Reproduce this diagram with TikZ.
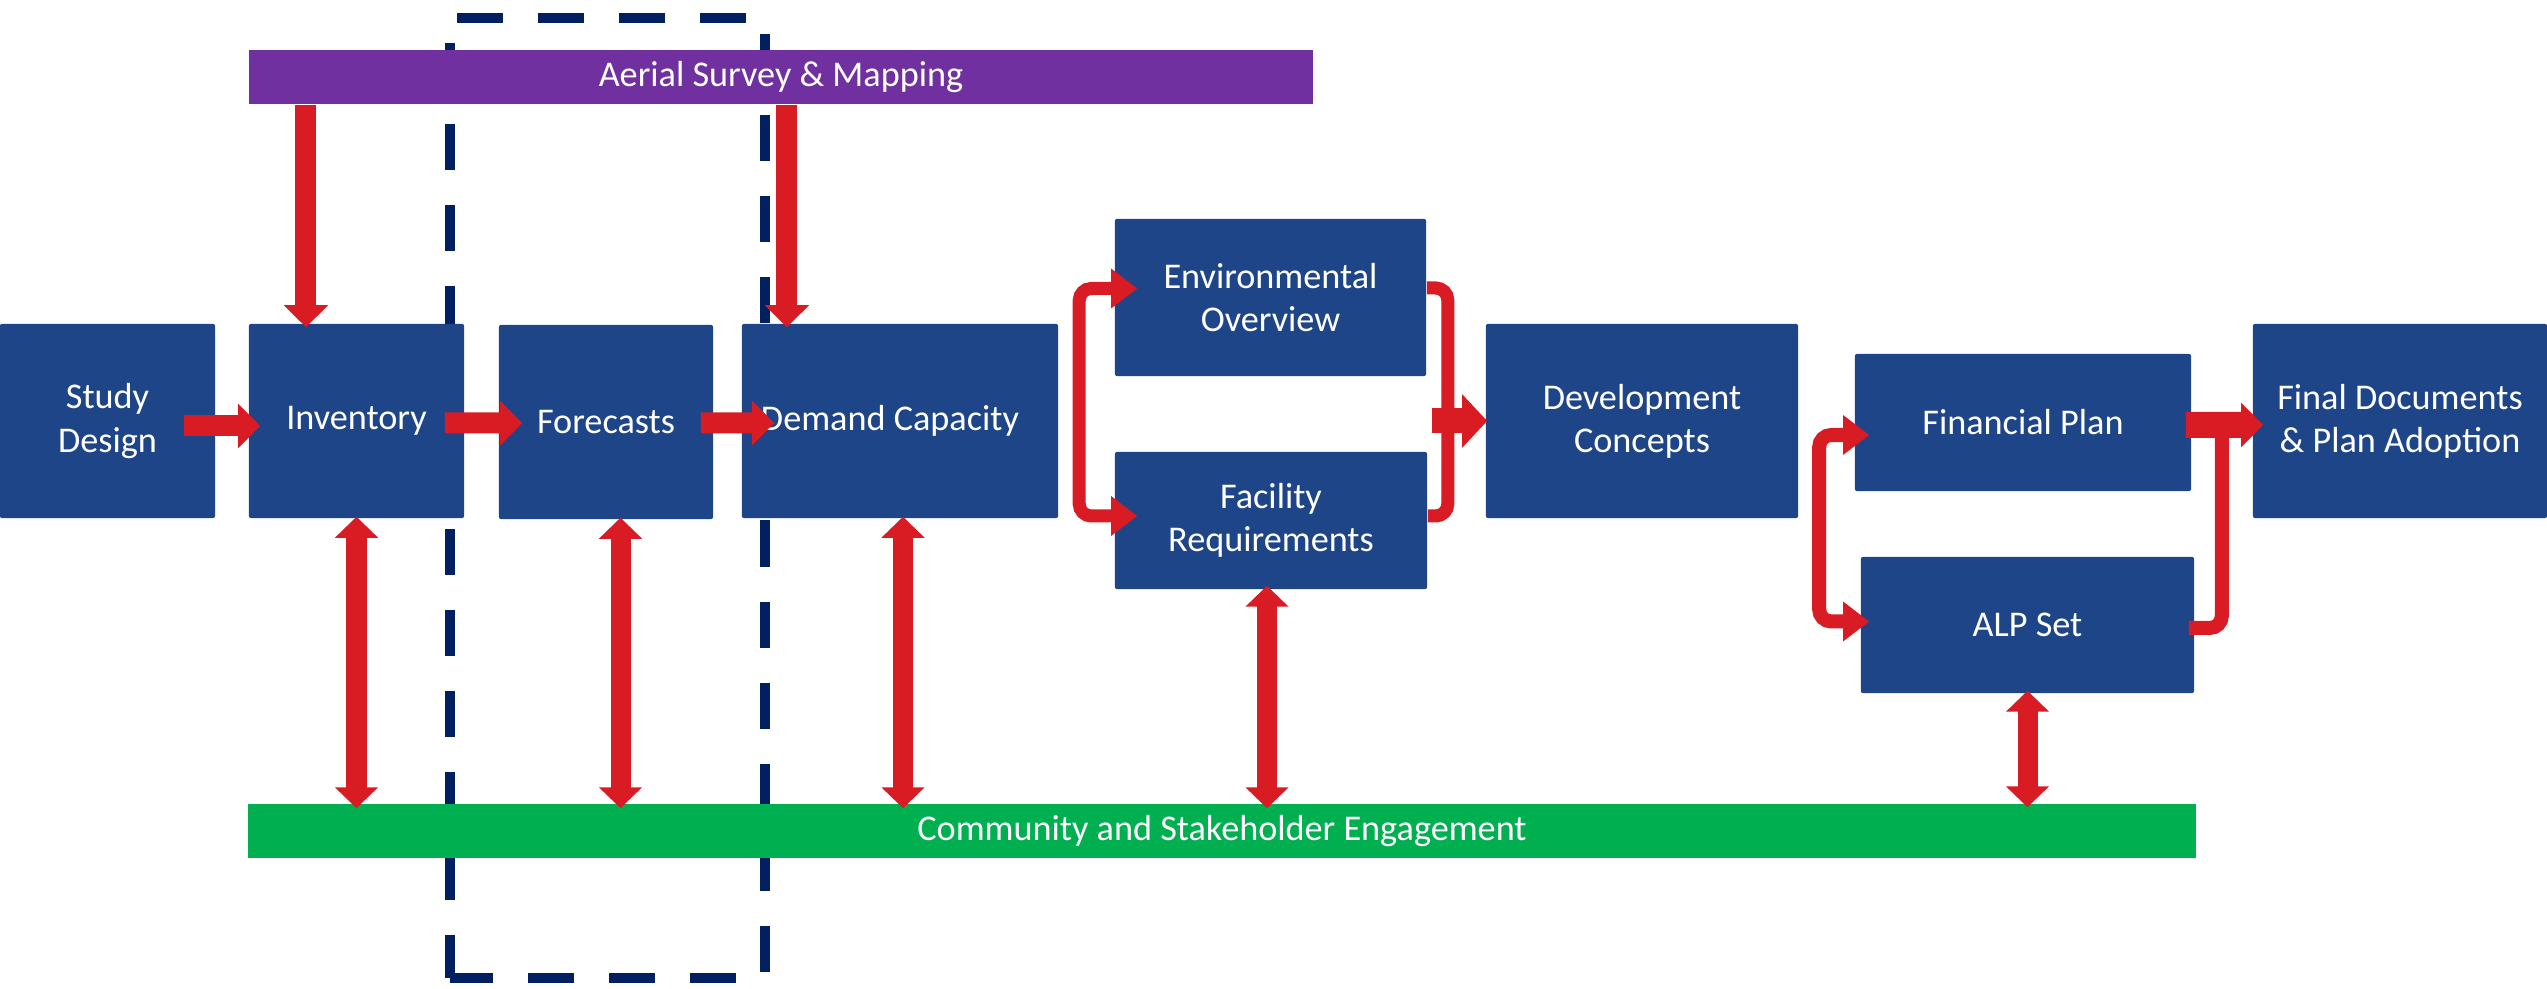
\documentclass[tikz,border=0pt]{standalone}
\usepackage{fontspec}
\setmainfont{Carlito}
\usetikzlibrary{arrows.meta}
\definecolor{stageblue}{HTML}{1F4589}
\definecolor{surveypurple}{HTML}{7030A0}
\definecolor{engagegreen}{HTML}{00B050}
\definecolor{flowred}{HTML}{D91C24}
\definecolor{fencenavy}{HTML}{002060}
\tikzset{
  stage/.style={fill=stageblue, text=white, align=center, inner sep=0pt,
    rounded corners=0.02cm, minimum height=1.94cm},
  band/.style={text=white, inner sep=0pt, minimum height=0.54cm},
  flow/.style={draw=flowred, line width=0.21cm, -{Triangle[width=0.43cm,length=0.22cm]}},
  twoway/.style={draw=flowred, line width=0.2cm,
    {Triangle[width=0.42cm,length=0.21cm]}-{Triangle[width=0.42cm,length=0.21cm]}},
  elbow/.style={draw=flowred, line width=0.13cm, rounded corners=0.12cm},
  elbowtips/.style={elbow, {Triangle[width=0.38cm,length=0.26cm]}-{Triangle[width=0.38cm,length=0.26cm]}},
  fence/.style={draw=fencenavy, line width=0.105cm, dash pattern=on 0.46cm off 0.35cm}
}
\begin{document}
\begin{tikzpicture}[x=0.01cm, y=-0.01cm, font=\fontsize{10.3}{12.3}\selectfont]
\useasboundingbox (0,0) rectangle (2547,989);

% dashed frame round the forecast step, behind all
\draw[fence, dash phase=0.74cm] (450,18) -- (765,18) -- (765,978) -- (450,978);
\draw[fence, dash phase=0.56cm] (450,18) -- (450,978);

% process steps
\node[stage, minimum width=2.15cm] (study) at (107.5,421) {Study\\Design};
\node[stage, minimum width=2.15cm] (inv) at (356.5,421) {Inventory};
\node[stage, minimum width=2.14cm] (fore) at (606,422) {Forecasts};
\node[stage, minimum width=3.16cm] (dem) at (900,421) {\hspace*{-0.2cm}Demand Capacity};
\node[stage, minimum width=3.11cm, minimum height=1.57cm] (env) at (1270.5,297.5) {Environmental\\Overview};
\node[stage, minimum width=3.12cm, minimum height=1.37cm] (fac) at (1271,520.5) {Facility\\Requirements};
\node[stage, minimum width=3.12cm] (dev) at (1642,421) {Development\\Concepts};
\node[stage, minimum width=3.36cm, minimum height=1.37cm] (fin) at (2023,422.5) {Financial Plan};
\node[stage, minimum width=3.33cm, minimum height=1.36cm] (alp) at (2027.5,625) {ALP Set};
\node[stage, minimum width=2.94cm] (final) at (2400,421) {Final Documents\\\& Plan Adoption};

% bars across the steps
\node[band, fill=surveypurple, minimum width=10.64cm] (aerial) at (781,77) {Aerial Survey \& Mapping};
\node[band, fill=engagegreen, minimum width=19.46cm] (comm) at (1222,831) {Community and Stakeholder Engagement};

% main flow
\draw[flow] ([shift={(-0.32cm,-0.05cm)}]study.east) -- ([shift={(0.12cm,-0.05cm)}]inv.west);
\draw[flow] ([shift={(-0.2cm,-0.02cm)}]inv.east) -- ([shift={(0.24cm,-0.01cm)}]fore.west);
\draw[flow] ([shift={(-0.13cm,-0.01cm)}]fore.east) -- ([shift={(0.33cm,-0.02cm)}]dem.west);

% survey feeds
\draw[flow] ([xshift=-0.505cm]inv.north |- aerial.south) -- ([shift={(-0.505cm,-0.04cm)}]inv.north);
\draw[flow] ([xshift=-1.13cm]dem.north |- aerial.south) -- ([shift={(-1.13cm,-0.04cm)}]dem.north);

% engagement links
\draw[twoway] ([yshift=0.02cm]inv.south) -- ([yshift=-0.05cm]inv.south |- comm.north);
\draw[twoway] ([shift={(0.145cm,0.02cm)}]fore.south) -- ([shift={(0.145cm,-0.05cm)}]fore.south |- comm.north);
\draw[twoway] ([shift={(0.03cm,0.02cm)}]dem.south) -- ([shift={(0.03cm,-0.05cm)}]dem.south |- comm.north);
\draw[twoway] ([shift={(-0.04cm,0.04cm)}]fac.south) -- ([shift={(-0.04cm,-0.05cm)}]fac.south |- comm.north);
\draw[twoway] ([yshift=0.03cm]alp.south) -- ([yshift=-0.04cm]alp.south |- comm.north);

% split and join round the two studies
\draw[elbowtips] ([shift={(0.23cm,0.09cm)}]env.west) -- ++(-58,0) |- ([shift={(0.23cm,0.045cm)}]fac.west);
\draw[elbow] ([yshift=0.095cm]env.east) -- ++(21,0) |- ([yshift=0.045cm]fac.east);
\draw[flow, line width=0.25cm, -{Triangle[width=0.52cm,length=0.25cm]}] ([xshift=-0.53cm]dev.west) -- ([xshift=0.02cm]dev.west);

% split and join round plan and ALP
\draw[elbowtips, line width=0.14cm] ([shift={(0.15cm,-0.125cm)}]fin.west) -- ++(-50,0) |- ([shift={(0.09cm,0.035cm)}]alp.west);
\draw[elbow, line width=0.14cm] ([shift={(-0.06cm,-0.03cm)}]alp.east) -- ++(33,0) |- (fin.east);
\draw[flow, line width=0.26cm] ([shift={(-0.06cm,-0.025cm)}]fin.east) -- ([shift={(0.11cm,-0.04cm)}]final.west);
\end{tikzpicture}
\end{document}
